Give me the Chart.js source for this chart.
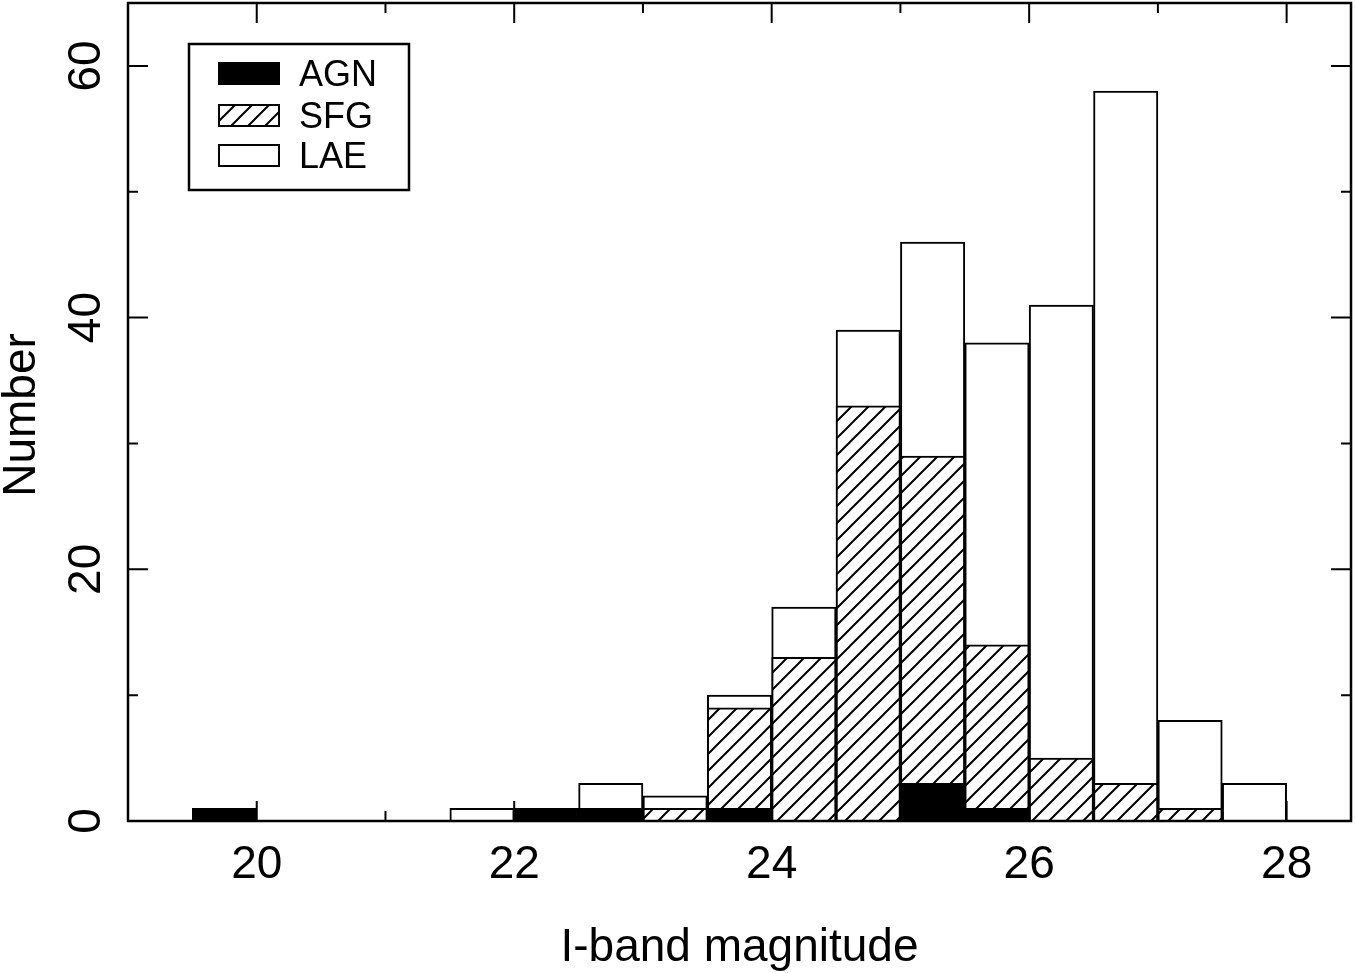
<!DOCTYPE html>
<html>
<head>
<meta charset="utf-8">
<title>I-band magnitude histogram</title>
<script src="https://cdn.jsdelivr.net/npm/chart.js@4.4.1/dist/chart.umd.min.js"></script>
<style>
  html, body { margin: 0; padding: 0; background: #fff; }
  #wrap { width: 1355px; height: 973px; }
</style>
</head>
<body>
<div id="wrap"><canvas id="histo" width="1355" height="973"></canvas></div>
<script>
// bin centres (0.5 mag bins from 19.5 to 28)
const binCenters = [19.75, 20.25, 20.75, 21.25, 21.75, 22.25, 22.75, 23.25, 23.75,
                    24.25, 24.75, 25.25, 25.75, 26.25, 26.75, 27.25, 27.75];
// bar tops as drawn (cumulative: LAE outline is the total)
const agn = [1, 0, 0, 0, 0, 1, 1, 0, 1, 0, 0, 3, 1, 0, 0, 0, 0];
const sfg = [1, 0, 0, 0, 0, 1, 1, 1, 9, 13, 33, 29, 14, 5, 3, 1, 0];
const lae = [1, 0, 0, 0, 1, 1, 3, 2, 10, 17, 39, 46, 38, 41, 58, 8, 3];

const xTickLabels = [20, 22, 24, 26, 28];
const xMinorTicks = [19, 21, 23, 25, 27];
const yTickLabels = [0, 20, 40, 60];
const yMinorTicks = [10, 30, 50];

const FONT = "'Liberation Sans', Arial, sans-serif";

function hatchPattern() {
    const s = 17;
    const c = document.createElement('canvas');
    c.width = s; c.height = s;
    const g = c.getContext('2d');
    g.fillStyle = '#fff';
    g.fillRect(0, 0, s, s);
    g.strokeStyle = '#000';
    g.lineWidth = 2;
    g.beginPath();
    g.moveTo(-2, s + 2); g.lineTo(s + 2, -2);
    g.moveTo(-2, 2); g.lineTo(2, -2);
    g.moveTo(s - 2, s + 2); g.lineTo(s + 2, s - 2);
    g.stroke();
    return g.createPattern(c, 'repeat');
}

const hatch = hatchPattern();

function toPoints(vals) {
    return binCenters.map((x, i) => ({ x: x, y: vals[i] }));
}

const frameAndText = {
    id: 'frameAndText',
    afterDraw(chart) {
        const ctx = chart.ctx;
        const a = chart.chartArea;
        const xs = chart.scales.x;
        const ys = chart.scales.y;
        ctx.save();
        ctx.strokeStyle = '#000';
        ctx.lineWidth = 2.5;
        ctx.strokeRect(a.left, a.top, a.right - a.left, a.bottom - a.top);

        // inward ticks on all four sides
        ctx.lineWidth = 2;
        ctx.beginPath();
        const tickX = (v, len) => {
            const px = xs.getPixelForValue(v);
            ctx.moveTo(px, a.bottom); ctx.lineTo(px, a.bottom - len);
            ctx.moveTo(px, a.top); ctx.lineTo(px, a.top + len);
        };
        const tickY = (v, len) => {
            const py = ys.getPixelForValue(v);
            ctx.moveTo(a.left, py); ctx.lineTo(a.left + len, py);
            ctx.moveTo(a.right, py); ctx.lineTo(a.right - len, py);
        };
        xTickLabels.forEach(v => tickX(v, 20));
        xMinorTicks.forEach(v => tickX(v, 10));
        yTickLabels.forEach(v => tickY(v, 20));
        yMinorTicks.forEach(v => tickY(v, 10));
        ctx.stroke();

        ctx.fillStyle = '#000';
        ctx.font = '46px ' + FONT;
        ctx.textAlign = 'center';
        ctx.textBaseline = 'alphabetic';
        xTickLabels.forEach(v => {
            ctx.fillText(String(v), xs.getPixelForValue(v), 878);
        });
        ctx.fillText('I-band magnitude', (a.left + a.right) / 2, 961);

        yTickLabels.forEach(v => {
            ctx.save();
            ctx.translate(100, ys.getPixelForValue(v));
            ctx.rotate(-Math.PI / 2);
            ctx.fillText(String(v), 0, 0);
            ctx.restore();
        });
        ctx.save();
        ctx.translate(35, 415);
        ctx.rotate(-Math.PI / 2);
        ctx.fillText('Number', 0, 0);
        ctx.restore();

        // legend box
        ctx.lineWidth = 2.5;
        ctx.strokeRect(189, 44, 220, 146);
        ctx.font = '36px ' + FONT;
        ctx.textAlign = 'left';
        const rows = [63, 105, 145];
        chart.data.datasets.forEach((ds, i) => {
            const y = rows[i];
            ctx.fillStyle = ds.backgroundColor;
            ctx.fillRect(219, y, 60, 21);
            ctx.lineWidth = 2;
            ctx.strokeStyle = '#000';
            ctx.strokeRect(219, y, 60, 21);
            ctx.fillStyle = '#000';
            ctx.fillText(ds.label, 299, y + 23);
        });
        ctx.restore();
    }
};

new Chart(document.getElementById('histo'), {
    type: 'bar',
    data: {
        datasets: [
            { label: 'AGN', data: toPoints(agn), backgroundColor: '#000' },
            { label: 'SFG', data: toPoints(sfg), backgroundColor: hatch },
            { label: 'LAE', data: toPoints(lae), backgroundColor: '#fff' }
        ]
    },
    options: {
        responsive: false,
        animation: false,
        devicePixelRatio: 1,
        layout: { padding: { left: 128, right: 4, top: 3, bottom: 152 } },
        datasets: {
            bar: {
                grouped: false,
                barPercentage: 1,
                categoryPercentage: 1,
                borderColor: '#000',
                borderWidth: 2
            }
        },
        plugins: {
            legend: { display: false },
            tooltip: { enabled: false }
        },
        scales: {
            x: { type: 'linear', min: 19, max: 28.5, offset: false, display: false },
            y: { min: 0, max: 65, display: false }
        }
    },
    plugins: [frameAndText]
});
</script>
</body>
</html>
